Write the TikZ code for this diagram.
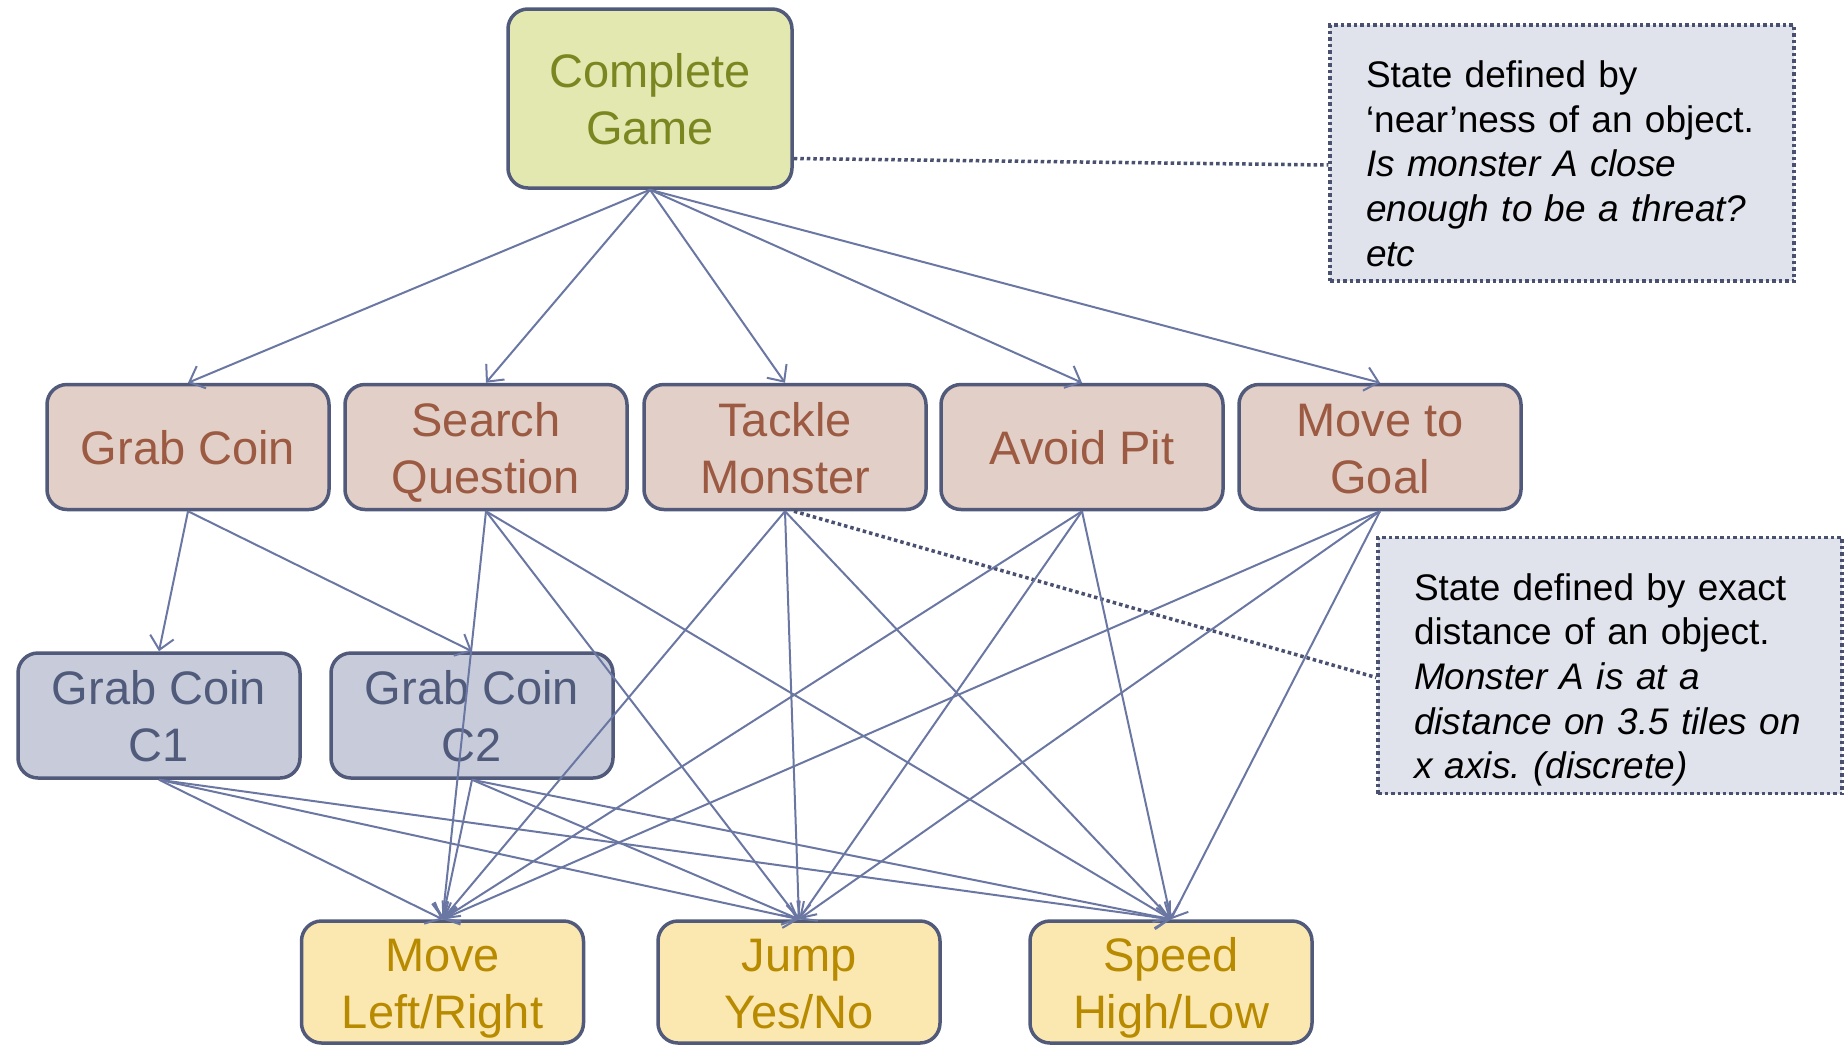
\documentclass[tikz,border=0pt]{standalone}
\usepackage{fontspec}
\setmainfont{Liberation Sans}
\usetikzlibrary{arrows.meta,calc}
\frenchspacing

\definecolor{frame}{RGB}{81,90,122}
\definecolor{linkc}{RGB}{107,119,163}
\definecolor{goalfill}{RGB}{227,232,176}
\definecolor{goaltext}{RGB}{122,135,33}
\definecolor{taskfill}{RGB}{226,207,200}
\definecolor{tasktext}{RGB}{155,90,65}
\definecolor{subfill}{RGB}{200,204,218}
\definecolor{subtext}{RGB}{80,90,122}
\definecolor{actfill}{RGB}{251,231,176}
\definecolor{acttext}{RGB}{184,138,0}
\definecolor{notefill}{RGB}{224,227,235}
\definecolor{notedots}{RGB}{74,80,112}

\begin{document}
\begin{tikzpicture}[x=1pt,y=-1pt,
  box/.style={draw=frame, line width=3.5pt, rounded corners=20pt,
    minimum width=282pt, minimum height=125pt, inner sep=0pt,
    align=center, font=\fontsize{47}{57}\selectfont,
    text height=104pt, text depth=12pt},
  oneline/.style={text height=47pt, text depth=12pt},
  goalbox/.style={box, fill=goalfill, text=goaltext, minimum width=284pt, minimum height=179pt},
  taskbox/.style={box, fill=taskfill, text=tasktext},
  subbox/.style={box, fill=subfill, text=subtext},
  actbox/.style={box, fill=actfill, text=acttext, minimum height=122pt},
  notebox/.style={draw=notedots, line width=3.5pt, dash pattern=on 3.5pt off 3pt,
    fill=notefill, minimum width=464pt, minimum height=256pt,
    inner xsep=36pt, inner ysep=0pt, text width=392pt, align=left,
    font=\fontsize{37}{44.7}\selectfont, text height=56pt, text depth=187pt},
  link/.style={draw=linkc, line width=2pt,
    -{Straight Barb[length=13pt,width=24pt]}},
  noteline/.style={draw=notedots, line width=3.5pt, dash pattern=on 3.5pt off 3pt}
]
\useasboundingbox (0,0) rectangle (1845,1045);

% top goal
\node[goalbox] (cg) at (650,98.5) {Complete\\Game};

% sub-goals
\node[taskbox, oneline] (grab) at (188,447) {Grab Coin};
\node[taskbox] (search) at (486,447)  {Search\\Question};
\node[taskbox] (tackle) at (785,447)  {Tackle\\Monster};
\node[taskbox, oneline] (pit) at (1082,447) {Avoid Pit};
\node[taskbox] (goal)   at (1380,447) {Move to\\Goal};

% coin instances
\node[subbox] (c1) at (159,715.5) {Grab Coin\\C1};
\node[subbox] (c2) at (472,715.5) {Grab Coin\\C2};

% primitive actions
\node[actbox] (move)  at (442.5,982) {Move\\Left/Right};
\node[actbox] (jump)  at (799,982)   {Jump\\Yes/No};
\node[actbox] (speed) at (1171,982)  {Speed\\High/Low};

% annotations
\node[notebox] (note1) at (1562,153) {State defined by\\‘near’ness of an object.\\\itshape Is monster A close\\enough to be a threat?\\etc};
\node[notebox] (note2) at (1610,665.5) {State defined by exact\\distance of an object.\\\itshape Monster A is at a\\distance on 3.5 tiles on\\x axis. (discrete)};

% dotted leaders to annotations
\draw[noteline] ($(cg.east)+(0,60)$) -- ($(note1.west)+(0,12)$);
\draw[noteline] ($(tackle.south)+(9,0)$) -- ($(note2.west)+(0,12)$);

% decomposition links
\foreach \t in {grab,search,tackle,pit,goal}
  \draw[link] (cg.south) -- (\t.north);
\foreach \t in {c1,c2}
  \draw[link] (grab.south) -- (\t.north);
\foreach \s in {search,tackle,pit,goal,c1,c2}
  \foreach \t in {move,jump,speed}
    \draw[link] (\s.south) -- (\t.north);
\end{tikzpicture}
\end{document}
